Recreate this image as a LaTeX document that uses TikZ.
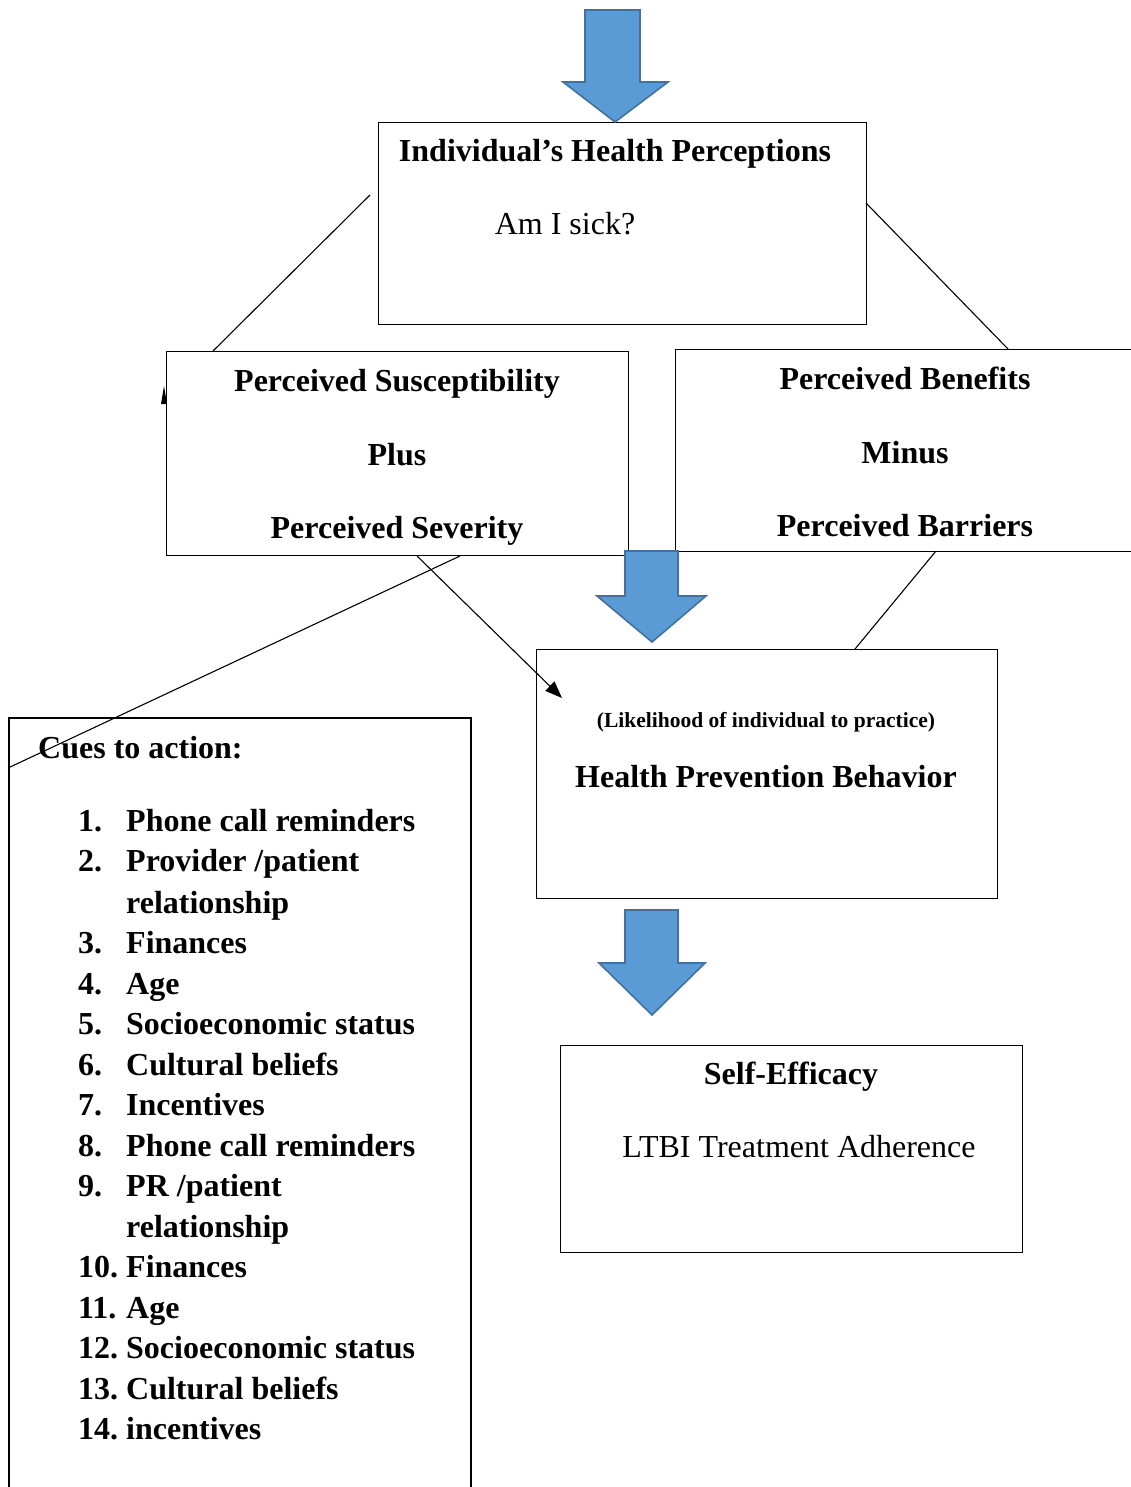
\documentclass[tikz,border=0pt]{standalone}
\usepackage{fontspec}
\setmainfont{Liberation Serif}
\usetikzlibrary{arrows.meta}
\definecolor{arrblue}{HTML}{5B9BD5}
\definecolor{arredge}{HTML}{41719C}
\tikzset{
  box/.style={draw=black, line width=1.3pt, anchor=north west, inner sep=0pt},
  bigb/.style={font=\fontsize{32}{38}\selectfont\bfseries, anchor=base},
  bigr/.style={font=\fontsize{32}{38}\selectfont, anchor=base},
  smallb/.style={font=\fontsize{21.5}{25}\selectfont\bfseries, anchor=base},
  item/.style={font=\fontsize{32}{38}\selectfont\bfseries, anchor=base west, inner sep=0pt},
  conn/.style={line width=1.1pt, black},
  blockarrow/.style={fill=arrblue, draw=arredge, line width=1.6pt, line join=miter},
}
\begin{document}
\begin{tikzpicture}[x=1pt, y=-1pt]
\useasboundingbox (0,0) rectangle (1131,1487);
% boxes
\node[box, minimum width=488pt, minimum height=202pt] (hp) at (378,122) {};
\node[box, minimum width=462pt, minimum height=204pt] (ps) at (166,351) {};
\node[box, minimum width=470pt, minimum height=202pt] (pb) at (675,349) {};
\node[box, minimum width=461pt, minimum height=249pt] (hpb) at (536,649) {};
\node[box, minimum width=462pt, minimum height=207pt] (se) at (560,1045) {};
% cues box (open at bottom)
\draw[line width=1.3pt] (9,1490) -- (9,718) coordinate (cnw) -- (471,718) coordinate (cne) -- (471,1490);
% texts
\node[bigb] (t1) at (615,162) {Individual’s Health Perceptions};
\node[bigr] (t2) at (565,235) {Am I sick?};
\node[bigb] (t3) at (397,391) {Perceived Susceptibility};
\node[bigb] (t4) at (397,465) {Plus};
\node[bigb] (t5) at (397,538) {Perceived Severity};
\node[bigb] (t6) at (905,389) {Perceived Benefits};
\node[bigb] (t7) at (905,463) {Minus};
\node[bigb] (t8) at (905,536) {Perceived Barriers};
\node[smallb] (t9) at (766,727) {(Likelihood of individual to practice)};
\node[bigb] (t10) at (766,787) {Health Prevention Behavior};
\node[bigb] (t11) at (791,1084) {Self-Efficacy};
\node[bigr] (t12) at (799,1157) {LTBI Treatment Adherence};
\node[item] (cta) at (38,758) {Cues to action:};
\foreach \n/\t/\y [count=\i] in {
  {1.}/{Phone call reminders}/831,
  {2.}/{Provider /patient}/871,
  {}/{relationship}/913,
  {3.}/{Finances}/953,
  {4.}/{Age}/994,
  {5.}/{Socioeconomic status}/1034,
  {6.}/{Cultural beliefs}/1075,
  {7.}/{Incentives}/1115,
  {8.}/{Phone call reminders}/1156,
  {9.}/{PR /patient}/1196,
  {}/{relationship}/1237,
  {10.}/{Finances}/1277,
  {11.}/{Age}/1318,
  {12.}/{Socioeconomic status}/1358,
  {13.}/{Cultural beliefs}/1399,
  {14.}/{incentives}/1439}{
  \node[item] (n\i) at (78,\y) {\n};
  \node[item] (it\i) at (126,\y) {\t};
}
% block arrows
\draw[blockarrow] (585,10) -- (640,10) -- (640,82) -- (668,82) -- (615,122) -- (563,82) -- (585,82) -- cycle;
\draw[blockarrow] (625,551) -- (678,551) -- (678,596) -- (706,596) -- (652,642) -- (597,596) -- (625,596) -- cycle;
\draw[blockarrow] (625,910) -- (678,910) -- (678,963) -- (705,963) -- (652,1015) -- (599,963) -- (625,963) -- cycle;
% connectors
\coordinate (a1) at (370,195);
\coordinate (a2) at (213,351);
\draw[conn] (a1) -- (a2);
\coordinate (b1) at (866,203);
\coordinate (b2) at (1008,349);
\draw[conn] (b1) -- (b2);
\coordinate (c1) at (936,551);
\coordinate (c2) at (855,649);
\draw[conn] (c1) -- (c2);
\coordinate (d1) at (417,556);
\coordinate (d2) at (562,698);
\draw[conn, -{Triangle[length=17pt, width=13pt]}] (d1) -- (d2);
\coordinate (e1) at (460,556);
\coordinate (e2) at (8,768);
\draw[conn] (e1) -- (e2);
% small arrow tip at left of susceptibility box
\coordinate (f2) at (164,386);
\fill (161,404) -- (f2) -- (167,404) -- cycle;
\end{tikzpicture}
\end{document}
